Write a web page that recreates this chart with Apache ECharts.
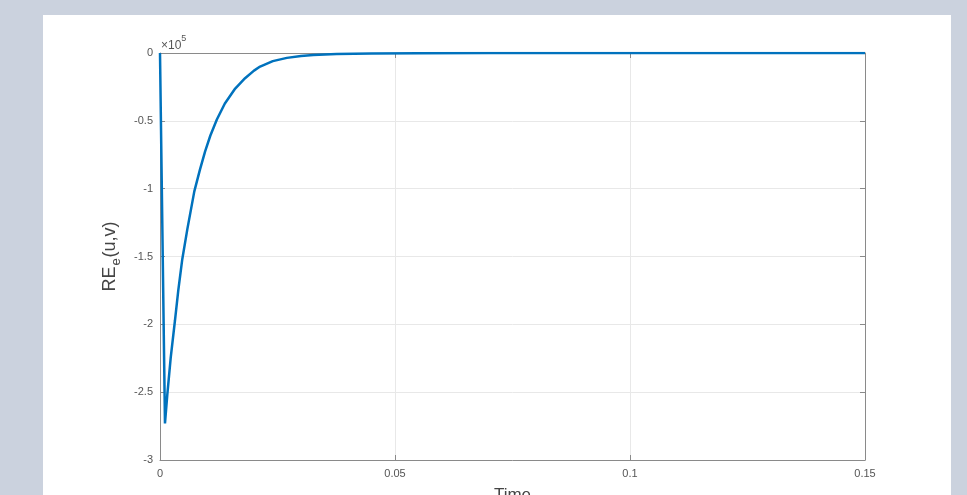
<!DOCTYPE html>
<html>
<head>
<meta charset="utf-8">
<script src="https://cdn.jsdelivr.net/npm/echarts@6/dist/echarts.min.js"></script>
<style>
html,body{margin:0;padding:0;background:#cbd2de;}
#chart{width:967px;height:495px;}
</style>
</head>
<body>
<div id="chart"></div>
<script>
// Data (Time, RE_e(u,v)), values in units of 1e5
const timeVals = [0, 0.00106, 0.00155, 0.00228, 0.00319, 0.00389, 0.00474, 0.00581, 0.0073, 0.0085, 0.0096, 0.0107, 0.0121, 0.0138, 0.0160, 0.0181, 0.0200, 0.0213, 0.0240, 0.0270, 0.0300, 0.0326, 0.0376, 0.045, 0.055, 0.07, 0.1, 0.15];
const reVals   = [0, -2.73, -2.52, -2.245, -1.97, -1.75, -1.52, -1.30, -1.02, -0.86, -0.725, -0.61, -0.49, -0.372, -0.262, -0.186, -0.130, -0.100, -0.060, -0.036, -0.022, -0.014, -0.007, -0.003, -0.001, 0, 0, 0];
const xTicks = [0, 0.05, 0.1, 0.15];
const yTicks = [0, -0.5, -1, -1.5, -2, -2.5, -3];
const yScale = 1e5;
const xName = 'Time';

const seriesData = timeVals.map((t, i) => [t, reVals[i] * yScale]);
const font = '"Liberation Sans", Arial, Helvetica, sans-serif';
const axisGray = '#8a8a8a';
const labelGray = '#555';

const chart = echarts.init(document.getElementById('chart'), null, {renderer: 'canvas'});
chart.setOption({
  animation: false,
  backgroundColor: '#cbd2de',
  graphic: [
    {type: 'rect', z: -10, shape: {x: 43, y: 15, width: 908, height: 490}, style: {fill: '#ffffff'}},
    {type: 'text', left: 161, top: 34, z: 10, style: {
      text: '{a|×10}{b|5}',
      rich: {a: {fontSize: 12, fill: labelGray, fontFamily: font, verticalAlign: 'bottom', padding: [6,0,0,0]},
             b: {fontSize: 9, fill: labelGray, fontFamily: font, verticalAlign: 'top'}}
    }}
  ],
  grid: {left: 160, right: 102, top: 53, bottom: 35, show: false, containLabel: false, outerBoundsMode: 'none'},
  xAxis: [{
    type: 'value', min: 0, max: 0.15, interval: 0.05,
    name: xName, nameLocation: 'middle', nameGap: 27,
    nameTextStyle: {fontSize: 17, color: '#444', fontFamily: font, verticalAlign: 'top'},
    axisLine: {show: true, onZero: false, lineStyle: {color: axisGray, width: 1}},
    axisTick: {show: true, inside: true, length: 5, lineStyle: {color: axisGray}},
    axisLabel: {color: labelGray, fontSize: 11, fontFamily: font, margin: 8,
      formatter: v => (xTicks.some(t => Math.abs(t - v) < 1e-9) ? String(+v.toFixed(2)) : '')},
    splitLine: {show: true, lineStyle: {color: '#e8e8e8', width: 1}}
  }, {
    type: 'value', min: 0, max: 0.15, interval: 0.05, position: 'top',
    axisLine: {show: true, onZero: false, lineStyle: {color: axisGray, width: 1}},
    axisTick: {show: true, inside: true, length: 5, lineStyle: {color: axisGray}},
    axisLabel: {show: false}, splitLine: {show: false}
  }],
  yAxis: [{
    type: 'value', min: -3e5, max: 0, interval: 0.5e5,
    name: '{n|RE}{s|e}{n|(u,v)}', nameLocation: 'middle', nameGap: 37, nameRotate: 90,
    nameTextStyle: {color: '#444', fontFamily: font,
      rich: {n: {fontSize: 18, color: '#444', fontFamily: font, lineHeight: 26, verticalAlign: 'middle'},
             s: {fontSize: 13, color: '#444', fontFamily: font, padding: [12, 1, 0, 1], verticalAlign: 'middle'}}},
    axisLine: {show: true, onZero: false, lineStyle: {color: axisGray, width: 1}},
    axisTick: {show: true, inside: true, length: 5, lineStyle: {color: axisGray}},
    axisLabel: {color: labelGray, fontSize: 11, fontFamily: font, margin: 7,
      formatter: v => {
        const s = +(v / yScale).toFixed(1);
        return yTicks.includes(s) ? String(s) : '';
      }},
    splitLine: {show: true, lineStyle: {color: '#e8e8e8', width: 1}}
  }, {
    type: 'value', min: -3e5, max: 0, interval: 0.5e5, position: 'right',
    axisLine: {show: true, onZero: false, lineStyle: {color: axisGray, width: 1}},
    axisTick: {show: true, inside: true, length: 5, lineStyle: {color: axisGray}},
    axisLabel: {show: false}, splitLine: {show: false}
  }],
  series: [{
    type: 'line', data: seriesData, showSymbol: false, smooth: false,
    lineStyle: {color: '#0072BD', width: 2.5}, z: 5
  }]
});
</script>
</body>
</html>
